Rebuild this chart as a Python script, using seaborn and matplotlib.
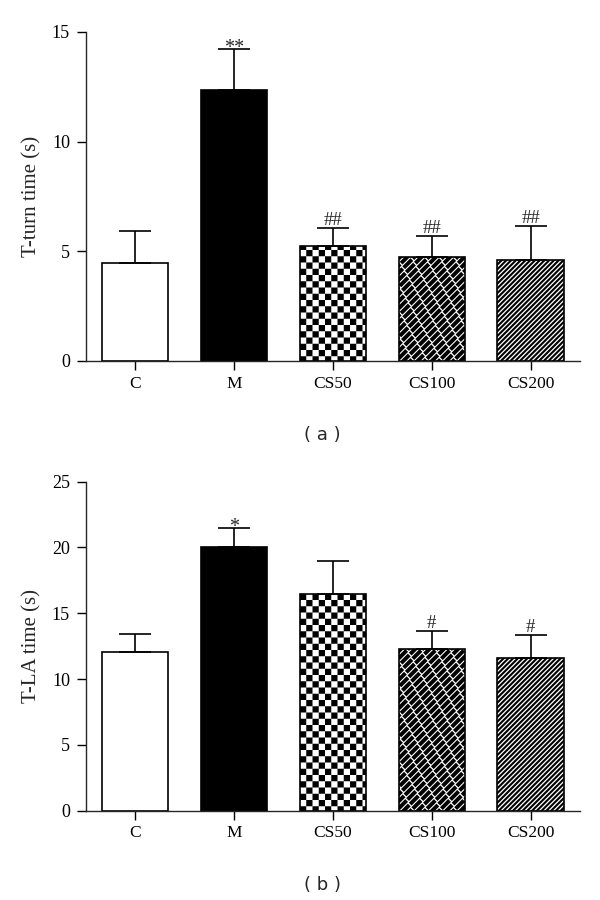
import numpy as np
import pandas as pd
import seaborn as sns
import matplotlib
matplotlib.use('Agg')
import matplotlib.pyplot as plt
import matplotlib.hatch as mhatch
from matplotlib.path import Path

groups = ['C', 'M', 'CS50', 'CS100', 'CS200']
bar_faces = ['white', 'black', 'white', 'white', 'white']
bar_hatches = [None, None, '*', '.', '///////']   # '*' -> checkerboard, '.' -> bricks (see below)

# (a) T-turn time
turn_mean = [4.45, 12.37, 5.26, 4.74, 4.60]
turn_sem = [1.49, 1.84, 0.79, 0.97, 1.56]
turn_marks = ['', '**', '##', '##', '##']

# (b) T-LA time
la_mean = [12.06, 20.0, 16.47, 12.26, 11.63]
la_sem = [1.39, 1.50, 2.50, 1.42, 1.74]
la_marks = ['', '*', '', '#', '#']

HATCH_LW = 1.5                      # pt
LW_UNIT = HATCH_LW * 100 / 72 / 100  # stroke width in hatch-tile units (dpi 100)
QUAD = [Path.MOVETO, Path.LINETO, Path.LINETO, Path.LINETO, Path.CLOSEPOLY]


class CheckerHatch(mhatch.HatchPatternBase):
    # filled checkerboard, 16 cells per hatch tile
    def __init__(self, hatch, density):
        self.parts = []
        if '*' in hatch:
            n = 16
            c = 1.0 / n
            s = LW_UNIT / 2
            sq = np.array([[0, 0], [1, 0], [1, 1], [0, 1], [0, 0]]) * (c - 2 * s) + s
            for i in range(n):
                for j in range(n):
                    if (i + j) % 2 == 0:
                        self.parts.append(sq + [i * c, j * c])
        self.num_vertices = len(self.parts) * 5

    def set_vertices_and_codes(self, vertices, codes):
        vertices[:] = np.concatenate(self.parts)
        codes[:] = np.tile(QUAD, len(self.parts))


class BrickHatch(mhatch.HatchPatternBase):
    # staggered black bricks along the '/' direction
    def __init__(self, hatch, density):
        self.parts = []
        if '.' in hatch:
            n, p = 14, 11
            e1 = np.array([1, 1]) / np.sqrt(2)
            e2 = np.array([-1, 1]) / np.sqrt(2)
            L = np.sqrt(2) / p - 0.013 - LW_UNIT
            W = 1 / (n * np.sqrt(2)) - 0.011 - LW_UNIT
            corners = np.array([-L / 2 * e1 - W / 2 * e2, L / 2 * e1 - W / 2 * e2,
                                L / 2 * e1 + W / 2 * e2, -L / 2 * e1 + W / 2 * e2,
                                -L / 2 * e1 - W / 2 * e2])
            for i in range(n):
                for j in range(p):
                    c = np.array([i / n, 0]) + (j + 0.5 * (i % 2)) * np.array([1 / p, 1 / p])
                    c = c % 1.0
                    for dx in (-1, 0, 1):
                        for dy in (-1, 0, 1):
                            cc = c + [dx, dy]
                            if -0.1 < cc[0] < 1.1 and -0.1 < cc[1] < 1.1:
                                self.parts.append(corners + cc)
        self.num_vertices = len(self.parts) * 5

    def set_vertices_and_codes(self, vertices, codes):
        vertices[:] = np.concatenate(self.parts)
        codes[:] = np.tile(QUAD, len(self.parts))


mhatch._hatch_types = [t for t in mhatch._hatch_types
                       if t not in (mhatch.Stars, mhatch.SmallFilledCircles)] + [CheckerHatch, BrickHatch]

sns.set_style('ticks')
plt.rcParams['font.family'] = ['Liberation Serif', 'DejaVu Serif']
plt.rcParams['hatch.linewidth'] = HATCH_LW
plt.rcParams['axes.linewidth'] = 1.0


def draw_panel(ax, means, sems, marks, ylabel, ymax, step):
    df = pd.DataFrame({'group': groups, 'value': means})
    sns.barplot(data=df, x='group', y='value', hue='group', palette=bar_faces,
                legend=False, width=0.67, edgecolor='black', linewidth=1.2,
                errorbar=None, ax=ax)
    for patch, h in zip(ax.patches, bar_hatches):
        if h:
            patch.set_hatch(h)
    x = np.arange(len(groups))
    ax.errorbar(x, means, yerr=[np.zeros(len(groups)), sems], fmt='none',
                ecolor='black', elinewidth=1.2, capsize=11.5, capthick=1.2)
    for xi, m, s, lab in zip(x, means, sems, marks):
        if not lab:
            continue
        star = '*' in lab
        ax.annotate(lab, (xi, m + s), xytext=(0, -3 if star else 2),
                    textcoords='offset points', ha='center', va='baseline',
                    fontsize=14.5 if star else 13.5)
    ax.set_xlim(-0.5, 4.5)
    ax.set_ylim(0, ymax)
    ax.set_yticks(np.arange(0, ymax + 0.1, step))
    ax.set_xlabel('')
    ax.set_ylabel(ylabel, fontsize=15)
    ax.yaxis.set_label_coords(-0.09, 0.5)
    ax.tick_params(axis='both', length=6.5, width=1.0, colors='black')
    ax.tick_params(axis='x', pad=4, labelsize=12.5)
    ax.tick_params(axis='y', pad=5, labelsize=13)
    sns.despine(ax=ax)


fig = plt.figure(figsize=(6, 9), dpi=100)
ax1 = fig.add_axes([0.1433, 0.5989, 0.8233, 0.3656])
ax2 = fig.add_axes([0.1433, 0.0992, 0.8233, 0.3656])

draw_panel(ax1, turn_mean, turn_sem, turn_marks, 'T-turn time (s)', 15, 5)
draw_panel(ax2, la_mean, la_sem, la_marks, 'T-LA time (s)', 25, 5)

fig.text(322 / 600, 1 - 435 / 900, '( a )', ha='center', va='center',
         fontsize=13, family=['DejaVu Sans'])
fig.text(322 / 600, 1 - 885 / 900, '( b )', ha='center', va='center',
         fontsize=13, family=['DejaVu Sans'])

fig.savefig('out.png', dpi=100, facecolor='white')
